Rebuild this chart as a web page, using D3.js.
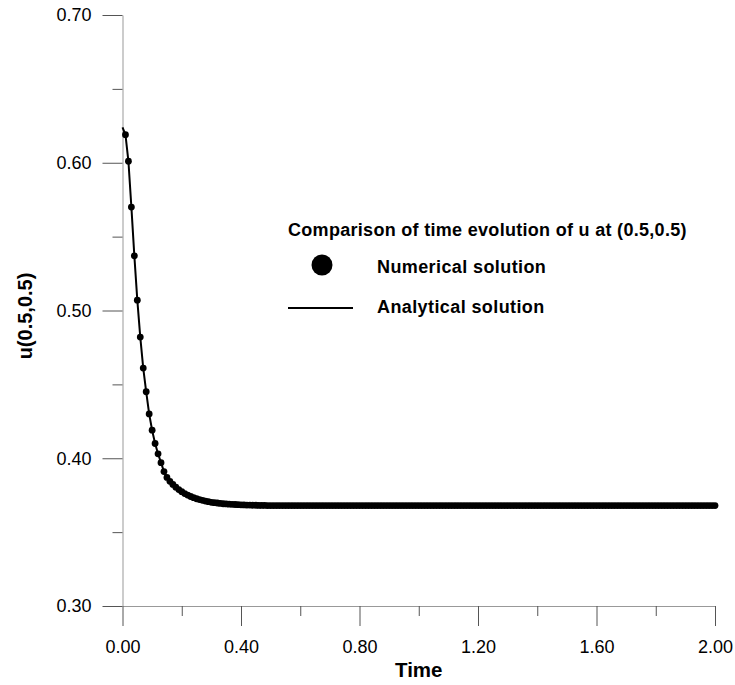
<!DOCTYPE html>
<html>
<head>
<meta charset="utf-8">
<script src="https://cdn.jsdelivr.net/npm/d3@7"></script>
<style>
  body { margin: 0; background: #fff; }
  text { font-family: "Liberation Sans", Arial, sans-serif; }
</style>
</head>
<body>
<div id="chart"></div>
<script>
// numerical solution, sampled every 0.01
var numTime = [
  0.01,0.02,0.03,0.04,0.05,0.06,0.07,0.08,0.09,0.10,
  0.11,0.12,0.13,0.14,0.15,0.16,0.17,0.18,0.19,0.20,
  0.21,0.22,0.23,0.24,0.25,0.26,0.27,0.28,0.29,0.30,
  0.31,0.32,0.33,0.34,0.35,0.36,0.37,0.38,0.39,0.40,
  0.41,0.42,0.43,0.44,0.45,0.46,0.47,0.48,0.49,0.50,
  0.51,0.52,0.53,0.54,0.55,0.56,0.57,0.58,0.59,0.60,
  0.61,0.62,0.63,0.64,0.65,0.66,0.67,0.68,0.69,0.70,
  0.71,0.72,0.73,0.74,0.75,0.76,0.77,0.78,0.79,0.80,
  0.81,0.82,0.83,0.84,0.85,0.86,0.87,0.88,0.89,0.90,
  0.91,0.92,0.93,0.94,0.95,0.96,0.97,0.98,0.99,1.00,
  1.01,1.02,1.03,1.04,1.05,1.06,1.07,1.08,1.09,1.10,
  1.11,1.12,1.13,1.14,1.15,1.16,1.17,1.18,1.19,1.20,
  1.21,1.22,1.23,1.24,1.25,1.26,1.27,1.28,1.29,1.30,
  1.31,1.32,1.33,1.34,1.35,1.36,1.37,1.38,1.39,1.40,
  1.41,1.42,1.43,1.44,1.45,1.46,1.47,1.48,1.49,1.50,
  1.51,1.52,1.53,1.54,1.55,1.56,1.57,1.58,1.59,1.60,
  1.61,1.62,1.63,1.64,1.65,1.66,1.67,1.68,1.69,1.70,
  1.71,1.72,1.73,1.74,1.75,1.76,1.77,1.78,1.79,1.80,
  1.81,1.82,1.83,1.84,1.85,1.86,1.87,1.88,1.89,1.90,
  1.91,1.92,1.93,1.94,1.95,1.96,1.97,1.98,1.99,2.00
];
var numU = [
  0.619,0.601,0.570,0.537,0.507,0.482,0.461,0.445,0.430,0.419,
  0.410,0.403,0.397,0.391,0.387,0.3844,0.3823,0.3804,0.3788,0.3774,
  0.3761,0.3751,0.3741,0.3733,0.3726,0.3720,0.3715,0.3710,0.3706,0.3702,
  0.3699,0.3697,0.3694,0.3692,0.3691,0.3689,0.3688,0.3687,0.3686,0.3685,
  0.3684,0.3683,0.3683,0.3682,0.3682,0.3681,0.3681,0.3681,0.3680,0.3680,
  0.368,0.368,0.368,0.368,0.368,0.368,0.368,0.368,0.368,0.368,
  0.368,0.368,0.368,0.368,0.368,0.368,0.368,0.368,0.368,0.368,
  0.368,0.368,0.368,0.368,0.368,0.368,0.368,0.368,0.368,0.368,
  0.368,0.368,0.368,0.368,0.368,0.368,0.368,0.368,0.368,0.368,
  0.368,0.368,0.368,0.368,0.368,0.368,0.368,0.368,0.368,0.368,
  0.368,0.368,0.368,0.368,0.368,0.368,0.368,0.368,0.368,0.368,
  0.368,0.368,0.368,0.368,0.368,0.368,0.368,0.368,0.368,0.368,
  0.368,0.368,0.368,0.368,0.368,0.368,0.368,0.368,0.368,0.368,
  0.368,0.368,0.368,0.368,0.368,0.368,0.368,0.368,0.368,0.368,
  0.368,0.368,0.368,0.368,0.368,0.368,0.368,0.368,0.368,0.368,
  0.368,0.368,0.368,0.368,0.368,0.368,0.368,0.368,0.368,0.368,
  0.368,0.368,0.368,0.368,0.368,0.368,0.368,0.368,0.368,0.368,
  0.368,0.368,0.368,0.368,0.368,0.368,0.368,0.368,0.368,0.368,
  0.368,0.368,0.368,0.368,0.368,0.368,0.368,0.368,0.368,0.368,
  0.368,0.368,0.368,0.368,0.368,0.368,0.368,0.368,0.368,0.368
];

// analytical solution
var anaTime = [0,0.01,0.02,0.03,0.04,0.05,0.06,0.07,0.08,0.09,0.10,
  0.11,0.12,0.13,0.14,0.15,0.16,0.17,0.18,0.19,0.20,
  0.22,0.24,0.26,0.28,0.30,0.33,0.36,0.40,0.45,0.50,2.00];
var anaU = [0.624,0.619,0.601,0.570,0.537,0.507,0.482,0.461,0.445,0.430,0.419,
  0.410,0.403,0.397,0.391,0.387,0.3844,0.3823,0.3804,0.3788,0.3774,
  0.3751,0.3733,0.3720,0.3710,0.3702,0.3694,0.3689,0.3685,0.3682,0.3680,0.368];

var xTicks = [0, 0.4, 0.8, 1.2, 1.6, 2.0];
var xMinor = [0.2, 0.6, 1.0, 1.4, 1.8];
var yTicks = [0.30, 0.40, 0.50, 0.60, 0.70];
var yMinor = [0.35, 0.45, 0.55, 0.65];

var width = 735, height = 685;
var margin = { top: 15, left: 122.5, right: 20, bottom: 79 };

var svg = d3.select("#chart").append("svg")
    .attr("width", width)
    .attr("height", height)
    .style("background", "#fff");

var x = d3.scaleLinear().domain([0, 2]).range([margin.left, 715]);
var y = d3.scaleLinear().domain([0.30, 0.70]).range([606, margin.top]);

// axes
svg.append("g")
    .attr("transform", "translate(0,606)")
    .call(d3.axisBottom(x).tickValues(xTicks).tickFormat(d3.format(".2f"))
        .tickSize(20).tickPadding(14).tickSizeOuter(0));
svg.append("g")
    .attr("transform", "translate(0,606)")
    .call(d3.axisBottom(x).tickValues(xMinor).tickFormat("").tickSize(10).tickSizeOuter(0))
    .select(".domain").remove();

svg.append("g")
    .attr("transform", "translate(" + margin.left + ",0)")
    .call(d3.axisLeft(y).tickValues(yTicks).tickFormat(d3.format(".2f"))
        .tickSize(20).tickPadding(11).tickSizeOuter(0));
svg.append("g")
    .attr("transform", "translate(" + margin.left + ",0)")
    .call(d3.axisLeft(y).tickValues(yMinor).tickFormat("").tickSize(10).tickSizeOuter(0))
    .select(".domain").remove();

svg.selectAll(".domain").attr("stroke", "#999");
svg.selectAll(".tick line").attr("stroke", "#555");
svg.selectAll(".tick text")
    .attr("fill", "#000")
    .style("font-size", "18px")
    .style("font-family", "'Liberation Sans', Arial, sans-serif");

// axis titles
svg.append("text")
    .attr("x", (x(0) + x(2)) / 2)
    .attr("y", 677)
    .attr("text-anchor", "middle")
    .style("font-size", "20.5px")
    .style("font-weight", "bold")
    .text("Time");

svg.append("text")
    .attr("transform", "translate(32," + 316 + ") rotate(-90)")
    .attr("text-anchor", "middle")
    .style("font-size", "20px")
    .style("font-weight", "bold")
    .text("u(0.5,0.5)");

// analytical line
var line = d3.line()
    .x(function (d) { return x(d[0]); })
    .y(function (d) { return y(d[1]); });

svg.append("path")
    .datum(d3.zip(anaTime, anaU))
    .attr("d", line)
    .attr("fill", "none")
    .attr("stroke", "#000")
    .attr("stroke-width", 2);

// numerical points
svg.append("g").selectAll("circle")
    .data(d3.zip(numTime, numU))
    .join("circle")
    .attr("cx", function (d) { return x(d[0]); })
    .attr("cy", function (d) { return y(d[1]); })
    .attr("r", 3.4)
    .attr("fill", "#000");

// legend
var legend = svg.append("g");
legend.append("text")
    .attr("x", 288)
    .attr("y", 236)
    .style("font-size", "18px")
    .style("font-weight", "bold")
    .style("letter-spacing", "0.3px")
    .text("Comparison of time evolution of u at (0.5,0.5)");
legend.append("circle")
    .attr("cx", 322)
    .attr("cy", 265)
    .attr("r", 10.5)
    .attr("fill", "#000");
legend.append("text")
    .attr("x", 377)
    .attr("y", 273)
    .style("font-size", "18px")
    .style("font-weight", "bold")
    .style("letter-spacing", "0.4px")
    .text("Numerical solution");
legend.append("line")
    .attr("x1", 288).attr("x2", 353)
    .attr("y1", 308).attr("y2", 308)
    .attr("stroke", "#000")
    .attr("stroke-width", 2);
legend.append("text")
    .attr("x", 377)
    .attr("y", 313)
    .style("font-size", "18px")
    .style("font-weight", "bold")
    .style("letter-spacing", "0.4px")
    .text("Analytical solution");
</script>
</body>
</html>
